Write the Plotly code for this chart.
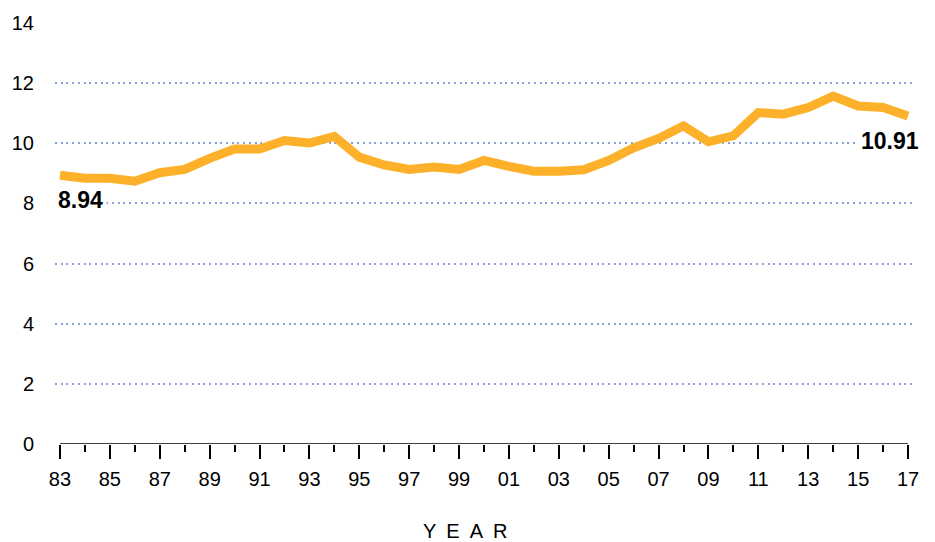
import plotly.graph_objects as go

years = list(range(1983, 2018))
values = [8.94, 8.84, 8.84, 8.74, 9.02, 9.13, 9.50, 9.81, 9.81, 10.09, 10.01, 10.23,
          9.54, 9.28, 9.13, 9.21, 9.13, 9.43, 9.23, 9.07, 9.07, 9.12, 9.43, 9.85,
          10.16, 10.58, 10.05, 10.25, 11.02, 10.97, 11.19, 11.57, 11.24, 11.19, 10.91]
major_ticks = list(range(1983, 2018, 2))
major_text = [str(y)[-2:] for y in major_ticks]
minor_ticks = list(range(1984, 2017, 2))
y_ticks = [0, 2, 4, 6, 8, 10, 12, 14]

FONT = "Arial, 'Liberation Sans', sans-serif"
LINE_COLOR = "#FDB12A"
GRID_COLOR = "#88A1DA"

fig = go.Figure()
fig.add_trace(go.Scatter(
    x=years, y=values, mode="lines",
    line=dict(color=LINE_COLOR, width=9),
    hoverinfo="skip", showlegend=False,
))

fig.add_shape(type="line", xref="x", yref="y", x0=years[0], x1=years[-1], y0=0, y1=0,
              line=dict(color="black", width=1.5), layer="above")

fig.add_annotation(x=years[0], y=values[0], text="<b>%.2f</b>" % values[0], showarrow=False,
                   xanchor="left", yanchor="middle", xshift=-6, yshift=-25,
                   bgcolor="white", borderpad=3,
                   font=dict(family=FONT, size=23, color="black"))
fig.add_annotation(x=years[-1], y=values[-1], text="<b>%.2f</b>" % values[-1], showarrow=False,
                   xanchor="right", yanchor="middle", xshift=15, yshift=-25,
                   bgcolor="white", borderpad=3,
                   font=dict(family=FONT, size=23, color="black"))

fig.add_annotation(xref="paper", yref="paper", x=(465 - 55) / 858, y=-0.207,
                   text="Y\u2002E\u2002A\u2002R", showarrow=False,
                   xanchor="center", yanchor="middle",
                   font=dict(family=FONT, size=20, color="black"))

fig.update_layout(
    width=935, height=542,
    margin=dict(l=55, r=22, t=20, b=98),
    paper_bgcolor="white", plot_bgcolor="white",
    font=dict(family=FONT, size=20, color="black"),
    xaxis=dict(
        range=[1982.8, 2017.2],
        tickmode="array", tickvals=major_ticks, ticktext=major_text,
        ticks="outside", ticklen=14, tickwidth=1.5, tickcolor="black",
        minor=dict(tickvals=minor_ticks, ticks="outside", ticklen=7, tickwidth=1.5, tickcolor="black"),
        showgrid=False, zeroline=False, showline=False,
        ticklabelstandoff=3,
        tickfont=dict(size=20),
    ),
    yaxis=dict(
        range=[0, 14],
        tickmode="array", tickvals=y_ticks,
        showgrid=True, gridcolor=GRID_COLOR, gridwidth=2, griddash="2px,3.7px",
        zeroline=False, showline=False, ticks="",
        ticklabelstandoff=20,
        tickfont=dict(size=20),
    ),
)

fig.write_html("out.html", config={"displayModeBar": False},
               post_script="document.body.style.margin='0';")
